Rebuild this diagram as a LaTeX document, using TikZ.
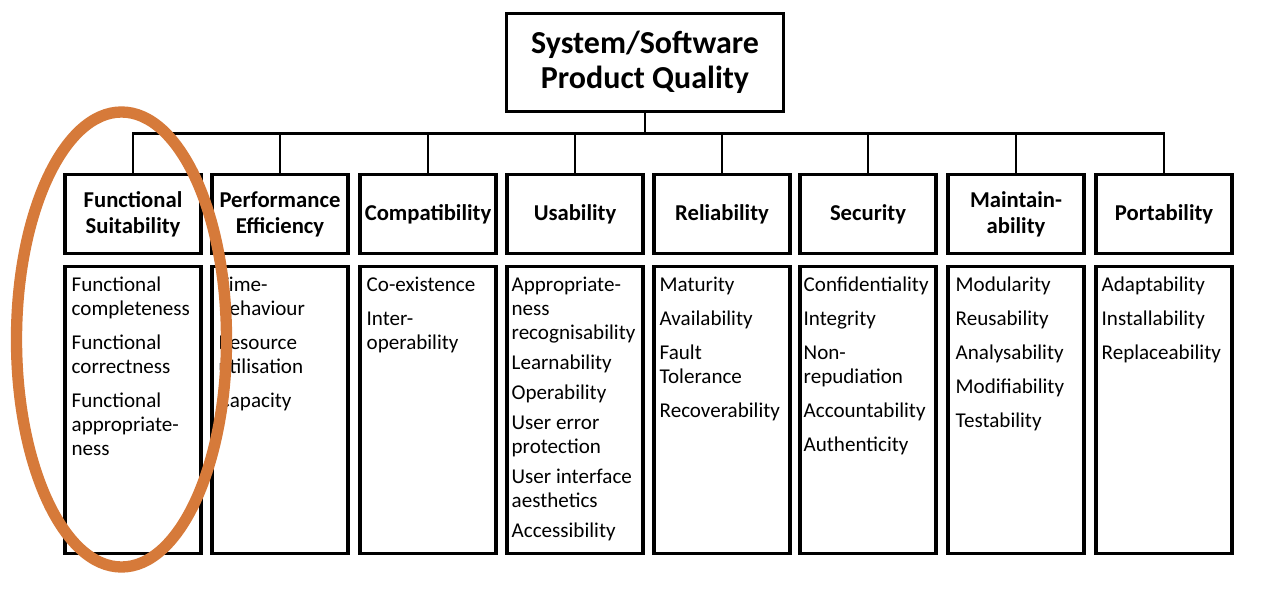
\documentclass[tikz,border=0pt]{standalone}
\usepackage{fontspec}
\setmainfont{Carlito}
\definecolor{ringorange}{RGB}{214,122,58}
\tikzset{
  qtop/.style={draw, line width=2.4pt, minimum width=208pt, minimum height=73.5pt, inner sep=0pt, align=center, font=\fontsize{24}{26.25}\selectfont\bfseries},
  qhead/.style={draw, line width=2.4pt, minimum width=102pt, minimum height=59pt, inner sep=0pt, align=center, font=\fontsize{17}{19.5}\selectfont\bfseries},
  qlist/.style={draw, line width=2.4pt, minimum width=102pt, minimum height=215pt, inner sep=0pt},
  qitem/.style={anchor=north west, align=left, inner sep=0pt, font=\fontsize{15.8}{18}\selectfont},
  qline/.style={line width=2.2pt}
}
\begin{document}
\begin{tikzpicture}[x=0.75pt,y=0.75pt,yscale=-1,xscale=1]
    \useasboundingbox (0,0) rectangle (1276,592);
    
    % Text Node
    \node[qtop] (quality) at (645,62.5) {System/Software\\Product Quality};
    
    % Text Node
    \node[qhead] (suit) at (133,214) {Functional\\Suitability};
    \node[qhead] (perf) at (280,214) {Performance\\Efficiency};
    \node[qhead] (compat) at (428,214) {Compatibility};
    \node[qhead] (usab) at (575,214) {Usability};
    \node[qhead] (relia) at (722,214) {Reliability};
    \node[qhead] (secur) at (868,214) {Security};
    \node[qhead] (maint) at (1016,214) {Maintain-\\ability};
    \node[qhead] (port) at (1164,214) {Portability};
    
    % Text Node
    \node[qlist] (suitlist) at (133,410) {};
    \node[qlist] (perflist) at (280,410) {};
    \node[qlist] (compatlist) at (428,410) {};
    \node[qlist] (usablist) at (575,410) {};
    \node[qlist] (relialist) at (722,410) {};
    \node[qlist] (securlist) at (868,410) {};
    \node[qlist] (maintlist) at (1016,410) {};
    \node[qlist] (portlist) at (1164,410) {};
    
    % Text Node
    \node[qitem] (suittext) at ([shift={(8,12)}]suitlist.north west) {Functional\\completeness\\[7.5pt]Functional\\correctness\\[7.5pt]Functional\\appropriate-\\ness};
    \node[qitem] (perftext) at ([shift={(8,12)}]perflist.north west) {Time-\\behaviour\\[7.5pt]Resource\\utilisation\\[7.5pt]Capacity};
    \node[qitem] (compattext) at ([shift={(8,12)}]compatlist.north west) {Co-existence\\[7.5pt]Inter-\\operability};
    \node[qitem] (usabtext) at ([shift={(6,12)}]usablist.north west) {Appropriate-\\ness\\recognisability\\[4.5pt]Learnability\\[4.5pt]Operability\\[4.5pt]User error\\protection\\[4.5pt]User interface\\aesthetics\\[4.5pt]Accessibility};
    \node[qitem] (reliatext) at ([shift={(7,12)}]relialist.north west) {Maturity\\[7.5pt]Availability\\[7.5pt]Fault\\Tolerance\\[7.5pt]Recoverability};
    \node[qitem] (securtext) at ([shift={(5,12)}]securlist.north west) {Confidentiality\\[7.5pt]Integrity\\[7.5pt]Non-\\repudiation\\[7.5pt]Accountability\\[7.5pt]Authenticity};
    \node[qitem] (mainttext) at ([shift={(9,12)}]maintlist.north west) {Modularity\\[7.5pt]Reusability\\[7.5pt]Analysability\\[7.5pt]Modifiability\\[7.5pt]Testability};
    \node[qitem] (porttext) at ([shift={(7,12)}]portlist.north west) {Adaptability\\[7.5pt]Installability\\[7.5pt]Replaceability};
    
    % Connection
    \draw[qline] (quality.south) -- ++(0,20) -| (suit.north);
    \draw[qline] (quality.south) -- ++(0,20) -| (perf.north);
    \draw[qline] (quality.south) -- ++(0,20) -| (compat.north);
    \draw[qline] (quality.south) -- ++(0,20) -| (usab.north);
    \draw[qline] (quality.south) -- ++(0,20) -| (relia.north);
    \draw[qline] (quality.south) -- ++(0,20) -| (secur.north);
    \draw[qline] (quality.south) -- ++(0,20) -| (maint.north);
    \draw[qline] (quality.south) -- ++(0,20) -| (port.north);
    
    % Highlight
    \draw[ringorange, line width=8.5pt] (121.5,339.5) ellipse [x radius=105, y radius=227.5];
    
    \end{tikzpicture}
\end{document}
